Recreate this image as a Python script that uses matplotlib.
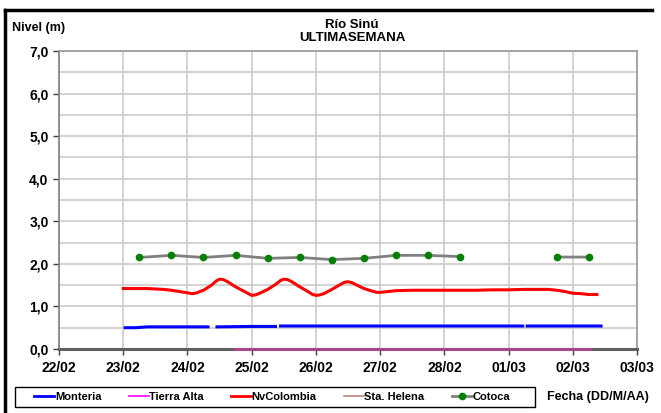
import numpy as np
import matplotlib
matplotlib.use("Agg")
import matplotlib.pyplot as plt
from matplotlib.lines import Line2D
from matplotlib.patches import Rectangle

plt.rcParams["font.family"] = ["Liberation Sans", "DejaVu Sans"]
plt.rcParams["font.weight"] = "bold"

# x in days since 22/02 00:00
date_labels = ["22/02", "23/02", "24/02", "25/02", "26/02",
               "27/02", "28/02", "01/03", "02/03", "03/03"]

nv_t = [1.0, 1.125, 1.25, 1.375, 1.5, 1.625, 1.75, 1.875, 2.0, 2.07, 2.125, 2.25,
        2.375, 2.45, 2.5, 2.56, 2.625, 2.75, 2.875, 2.95, 3.0, 3.06, 3.125, 3.25,
        3.375, 3.45, 3.5, 3.56, 3.625, 3.75, 3.875, 3.95, 4.0, 4.06, 4.125, 4.25,
        4.375, 4.45, 4.5, 4.56, 4.625, 4.75, 4.875, 4.95, 5.0, 5.125, 5.25, 5.5,
        5.75, 6.0, 6.25, 6.5, 6.75, 7.0, 7.25, 7.5, 7.625, 7.75, 7.875, 8.0,
        8.125, 8.25, 8.375]
nv_v = [1.42, 1.42, 1.42, 1.42, 1.41, 1.40, 1.38, 1.35, 1.32, 1.30, 1.31, 1.38,
        1.50, 1.60, 1.64, 1.63, 1.58, 1.46, 1.36, 1.30, 1.26, 1.27, 1.31, 1.40,
        1.52, 1.61, 1.64, 1.63, 1.58, 1.46, 1.35, 1.28, 1.26, 1.27, 1.30, 1.40,
        1.51, 1.57, 1.58, 1.56, 1.51, 1.42, 1.36, 1.33, 1.33, 1.35, 1.37, 1.38,
        1.38, 1.38, 1.38, 1.38, 1.39, 1.39, 1.40, 1.40, 1.40, 1.38, 1.35, 1.31,
        1.30, 1.28, 1.28]

mon_t = [1.03, 1.2, 1.37, 1.5, 2.0, 2.32, 2.33, 2.46, 3.0, 3.37, 3.38, 3.45,
         4.5, 5.5, 6.5, 7.22, 7.23, 7.29, 8.0, 8.44]
mon_v = [0.50, 0.50, 0.52, 0.52, 0.52, 0.52, np.nan, 0.52, 0.53, 0.53, np.nan, 0.54,
         0.54, 0.54, 0.54, 0.54, np.nan, 0.54, 0.54, 0.54]

ta_t = [2.74, 8.27]
ta_v = [0.0, 0.0]

sh_t = []
sh_v = []

cot_t = [1.25, 1.75, 2.25, 2.75, 3.25, 3.75, 4.25, 4.75, 5.25, 5.75, 6.25,
         6.75, 7.75, 8.25]
cot_v = [2.15, 2.20, 2.15, 2.20, 2.13, 2.15, 2.10, 2.13, 2.20, 2.20, 2.17,
         np.nan, 2.16, 2.16]

fig = plt.figure(figsize=(6.61, 4.13), dpi=100)
ax = fig.add_axes([59 / 661, 1 - 349 / 413, (637 - 59) / 661, (349 - 51) / 413])

ax.set_xlim(0, 9)
ax.set_ylim(0, 7)
ax.set_xticks(range(10))
ax.set_xticklabels(date_labels, fontsize=10, fontweight="bold")
ax.set_yticks(range(8))
ax.set_yticklabels([f"{v},0" for v in range(8)], fontsize=10, fontweight="bold")
ax.set_yticks(np.arange(0.5, 7, 1), minor=True)
ax.tick_params(axis="y", which="minor", length=0)
ax.tick_params(axis="both", which="major", length=4, color="#404040", width=1)
ax.tick_params(axis="x", pad=5)
ax.grid(True, which="both", color="#cccccc", lw=1.2)
ax.set_axisbelow(True)
for s in ["top", "right", "left"]:
    ax.spines[s].set_color("#999999")
    ax.spines[s].set_linewidth(1.2)
ax.spines["left"].set_color("#808080")
ax.spines["bottom"].set_color("#606060")
ax.spines["bottom"].set_linewidth(2.2)

ax.plot(mon_t, mon_v, color="#0000ff", lw=2.2, zorder=3)
ax.plot(sh_t, sh_v, color="#c08080", lw=1.2, zorder=3)
ax.plot(ta_t, ta_v, color="#a8468c", lw=2.2, zorder=4, clip_on=False)
ax.plot(nv_t, nv_v, color="#ff0000", lw=2.2, zorder=3)
ax.plot(cot_t, cot_v, color="#808080", lw=2, marker="o", ms=4.5,
        mfc="#008000", mec="#008000", zorder=3)

fig.text(12 / 661, 1 - 28 / 413, "Nivel (m)", fontsize=9, fontweight="bold", va="center")
fig.text(352 / 661, 1 - 25 / 413, "Río Sinú", fontsize=9.5, fontweight="bold",
         ha="center", va="center")
fig.text(352 / 661, 1 - 38 / 413, "ULTIMASEMANA", fontsize=9.5, fontweight="bold",
         ha="center", va="center")
fig.text(547 / 661, 1 - 397 / 413, "Fecha (DD/M/AA)", fontsize=9,
         fontweight="bold", va="center")

handles = [
    Line2D([], [], color="#0000ff", lw=2),
    Line2D([], [], color="#ff00ff", lw=1.2),
    Line2D([], [], color="#ff0000", lw=2),
    Line2D([], [], color="#c08080", lw=1.2),
    Line2D([], [], color="#808080", lw=2, marker="o", ms=4.5,
           mfc="#008000", mec="#008000"),
]
labels = ["Monteria", "Tierra Alta", "NvColombia", "Sta. Helena", "Cotoca"]
leg = fig.legend(handles, labels, loc="center", ncol=5,
                 bbox_to_anchor=(272 / 661, 1 - 397 / 413),
                 fontsize=8, frameon=False, handlelength=1.8, handletextpad=0.05,
                 borderpad=0, borderaxespad=0, columnspacing=2.45)
for t in leg.get_texts():
    t.set_fontweight("bold")

fig.patches.append(Rectangle((15 / 661, 1 - 407 / 413), 520 / 661, 20 / 413,
                             transform=fig.transFigure, fill=False,
                             edgecolor="black", lw=1))

# outer chart frame (top and left visible)
fig.add_artist(Line2D([5 / 661, 5 / 661], [0, 1 - 10 / 413],
                      transform=fig.transFigure, color="black", lw=2.5))
fig.add_artist(Line2D([5 / 661, 652 / 661], [1 - 10 / 413, 1 - 10 / 413],
                      transform=fig.transFigure, color="black", lw=2.5))

fig.savefig("out.png", dpi=100)
